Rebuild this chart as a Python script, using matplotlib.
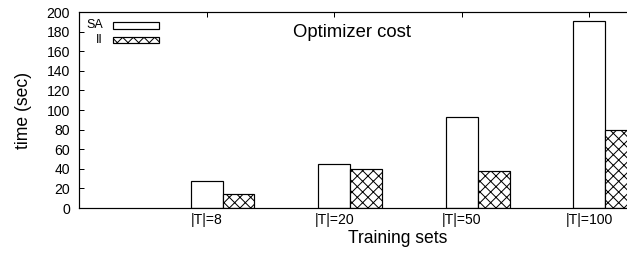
import matplotlib
matplotlib.use("Agg")
import matplotlib.pyplot as plt
from matplotlib.patches import Rectangle
import numpy as np

# data
training_sets = ["|T|=8", "|T|=20", "|T|=50", "|T|=100"]
sa_time = [27.5, 44.5, 92.5, 191]
ii_time = [14, 40, 37.5, 79.5]
series_names = ["SA", "II"]

DPI = 128
PX = 72.0 / DPI  # one pixel in points

plt.rcParams['font.family'] = ['Liberation Sans', 'DejaVu Sans']
plt.rcParams['hatch.linewidth'] = 1.0 * PX
plt.rcParams['hatch.color'] = 'black'

fig = plt.figure(figsize=(627 / DPI, 256 / DPI), dpi=DPI)
# axes runs past the right edge of the picture, like the original crop
ax = fig.add_axes([79 / 627, 48 / 256, 638 / 627, 196 / 256])

x = np.arange(1, len(training_sets) + 1)
w = 0.25
ax.bar(x, sa_time, w, color='white', edgecolor='black', linewidth=1.2 * PX)
ax.bar(x + w, ii_time, w, color='white', edgecolor='black', linewidth=1.2 * PX, hatch='xxxx')

ax.set_xlim(0, 5)
ax.set_ylim(0, 200)
ax.set_yticks(np.arange(0, 201, 20))
ax.set_xticks(x)
ax.set_xticklabels(training_sets)

ax.tick_params(axis='y', direction='in', length=5 * PX, width=1 * PX,
               labelsize=14 * PX, pad=9 * PX, right=True)
ax.tick_params(axis='x', direction='in', length=5 * PX, width=1 * PX,
               labelsize=14 * PX, pad=5 * PX, bottom=False, top=True)
for s in ax.spines.values():
    s.set_linewidth(1.2 * PX)

ax.set_xlabel("Training sets", fontsize=17.5 * PX)
ax.set_ylabel("time (sec)", fontsize=17.5 * PX)
ax.xaxis.set_label_coords(0.5, -0.112)
ax.yaxis.set_label_coords(-0.074, 0.5)

ax.text(0.428, 0.893, "Optimizer cost", transform=ax.transAxes,
        ha='center', va='center', fontsize=18.5 * PX)

# gnuplot style key: label first, sample box after it
key_rows = [(0.934, 0.912, 0.037, None), (0.857, 0.840, 0.034, 'xxxx')]
for name, (ty, by, bh, hatch) in zip(series_names, key_rows):
    ax.text(0.0376, ty, name, transform=ax.transAxes, ha='right', va='center',
            fontsize=12.5 * PX)
    ax.add_patch(Rectangle((0.0533, by), 0.0721, bh, transform=ax.transAxes,
                           facecolor='white', edgecolor='black',
                           linewidth=1.2 * PX, hatch=hatch))

fig.savefig("out.png", dpi=DPI)
